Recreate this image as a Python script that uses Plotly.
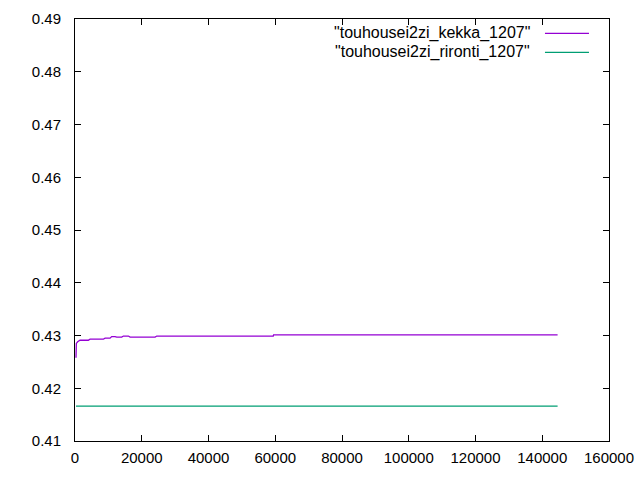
import plotly.graph_objects as go

# Data
kekka_x = [300, 400, 800, 1500, 4000, 4500, 8500, 9000, 10500, 11000, 12000, 12500,
           14000, 14500, 16000, 16500, 24000, 24500, 59400, 59500, 144600]
kekka_y = [0.4258, 0.4285, 0.4288, 0.4291, 0.4291, 0.4293, 0.4293, 0.4295, 0.4295, 0.4298, 0.4298, 0.4297,
           0.4297, 0.4299, 0.4299, 0.4297, 0.4297, 0.4299, 0.4299, 0.4301, 0.4301]
rironti_x = [300, 144600]
rironti_y = [0.4166, 0.4166]

series_names = ['"touhousei2zi_kekka_1207"', '"touhousei2zi_rironti_1207"']
series_colors = ["#9400D3", "#009E73"]

x_ticks = [0, 20000, 40000, 60000, 80000, 100000, 120000, 140000, 160000]
y_ticks = [0.41, 0.42, 0.43, 0.44, 0.45, 0.46, 0.47, 0.48, 0.49]

FONT = "Liberation Sans, Arial, sans-serif"

fig = go.Figure()
fig.add_trace(go.Scatter(x=kekka_x, y=kekka_y, mode="lines", name=series_names[0],
                         line=dict(color=series_colors[0], width=1.3), showlegend=False))
fig.add_trace(go.Scatter(x=rironti_x, y=rironti_y, mode="lines", name=series_names[1],
                         line=dict(color=series_colors[1], width=1.3), showlegend=False))

# gnuplot-style legend: right-aligned text with line sample to the right
legend_rows = [0.9661, 0.9211]
for name, color, yy in zip(series_names, series_colors, legend_rows):
    fig.add_annotation(xref="paper", yref="paper", x=0.8558, y=yy, text=name,
                       showarrow=False, xanchor="right", yanchor="middle",
                       font=dict(family=FONT, size=16, color="black"))
    fig.add_shape(type="line", xref="paper", yref="paper", x0=0.8801, x1=0.9625, y0=yy, y1=yy,
                  line=dict(color=color, width=1.3))

axis_common = dict(showgrid=False, zeroline=False, showline=True, linecolor="black", linewidth=1,
                   mirror="allticks", ticks="inside", ticklen=6, tickcolor="black", tickwidth=1,
                   automargin=False,
                   tickfont=dict(family=FONT, size=15, color="black"))

fig.update_xaxes(range=[0, 160000], tickvals=x_ticks, ticktext=[str(v) for v in x_ticks],
                 ticklabelstandoff=3, **axis_common)
fig.update_yaxes(range=[0.41, 0.49], tickvals=y_ticks, ticktext=[f"{v:.2f}" for v in y_ticks],
                 ticklabelstandoff=10, **axis_common)

fig.update_layout(width=640, height=480, margin=dict(l=75, r=31, t=19, b=39, pad=0),
                  plot_bgcolor="white", paper_bgcolor="white",
                  font=dict(family=FONT, size=15, color="black"))

fig.write_html("out.html", config={"displayModeBar": False},
               post_script="document.body.style.margin='0';document.body.style.overflow='hidden';")
